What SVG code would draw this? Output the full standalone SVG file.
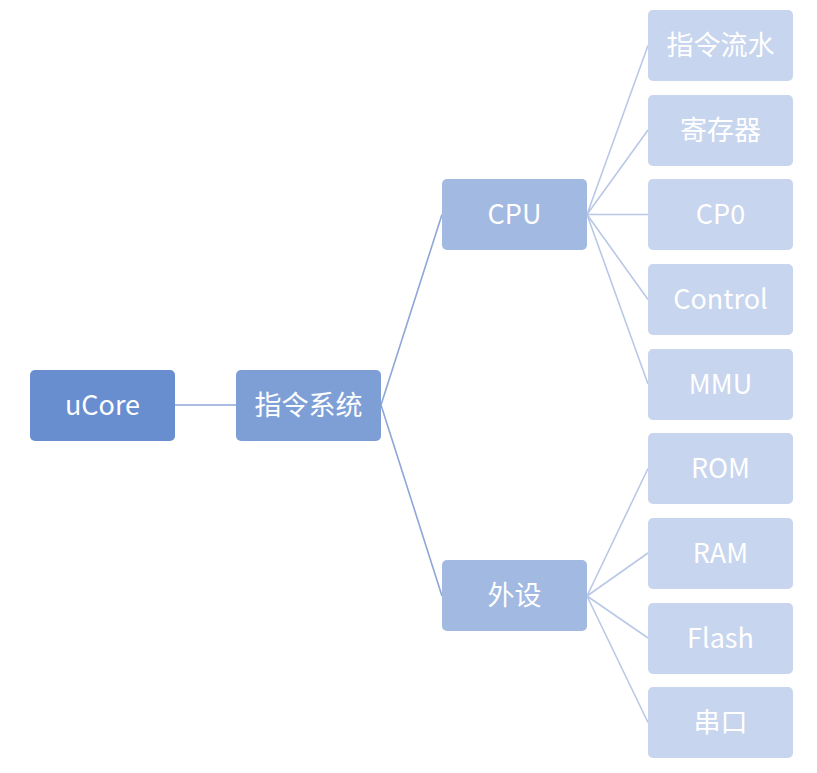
<svg xmlns="http://www.w3.org/2000/svg" width="817" height="773" viewBox="0 0 817 773">
<style>
text{font-family:"Noto Sans CJK SC","Noto Sans",sans-serif;font-size:27px;fill:#fff;text-anchor:middle;dominant-baseline:central}
.l0{fill:#698ED0}.l1{fill:#7E9FD6}.l2{fill:#A2B9E2}.l3{fill:#C7D5EE}
.c1{stroke:#8FA6D8;stroke-width:1.6;fill:none}.c2{stroke:#BAC8E7;stroke-width:1.6;fill:none}
</style>
<rect width="817" height="773" fill="#fff"/>
<g id="connectors">
<path class="c1" d="M175 405H236"/>
<path class="c1" d="M381 405L442 214.5M381 405L442 596"/>
<path class="c2" d="M587 214.5L648 45.5M587 214.5L648 130M587 214.5L648 214.5M587 214.5L648 299.5M587 214.5L648 384"/>
<path class="c2" d="M587 596L648 468.5M587 596L648 553M587 596L648 638M587 596L648 722.5"/>
</g>
<g id="ucore"><rect class="l0" x="30" y="370" width="145" height="71" rx="5"/><text x="102.5" y="403.5">uCore</text></g>
<g id="isa"><rect class="l1" x="236" y="370" width="145" height="71" rx="5"/><text x="308.5" y="403.5">指令系统</text></g>
<g id="cpu"><rect class="l2" x="442" y="179" width="145" height="71" rx="5"/><text x="514.5" y="212.5">CPU</text></g>
<g id="periph"><rect class="l2" x="442" y="560" width="145" height="71" rx="5"/><text x="514.5" y="593.5">外设</text></g>
<g id="pipeline"><rect class="l3" x="648" y="10" width="145" height="71" rx="5"/><text x="720.5" y="43.5">指令流水</text></g>
<g id="regs"><rect class="l3" x="648" y="95" width="145" height="71" rx="5"/><text x="720.5" y="128.5">寄存器</text></g>
<g id="cp0"><rect class="l3" x="648" y="179" width="145" height="71" rx="5"/><text x="720.5" y="212.5">CP0</text></g>
<g id="control"><rect class="l3" x="648" y="264" width="145" height="71" rx="5"/><text x="720.5" y="297.5">Control</text></g>
<g id="mmu"><rect class="l3" x="648" y="349" width="145" height="71" rx="5"/><text x="720.5" y="382.5">MMU</text></g>
<g id="rom"><rect class="l3" x="648" y="433" width="145" height="71" rx="5"/><text x="720.5" y="466.5">ROM</text></g>
<g id="ram"><rect class="l3" x="648" y="518" width="145" height="71" rx="5"/><text x="720.5" y="551.5">RAM</text></g>
<g id="flash"><rect class="l3" x="648" y="603" width="145" height="71" rx="5"/><text x="720.5" y="636.5">Flash</text></g>
<g id="serial"><rect class="l3" x="648" y="687" width="145" height="71" rx="5"/><text x="720.5" y="720.5">串口</text></g>
</svg>
